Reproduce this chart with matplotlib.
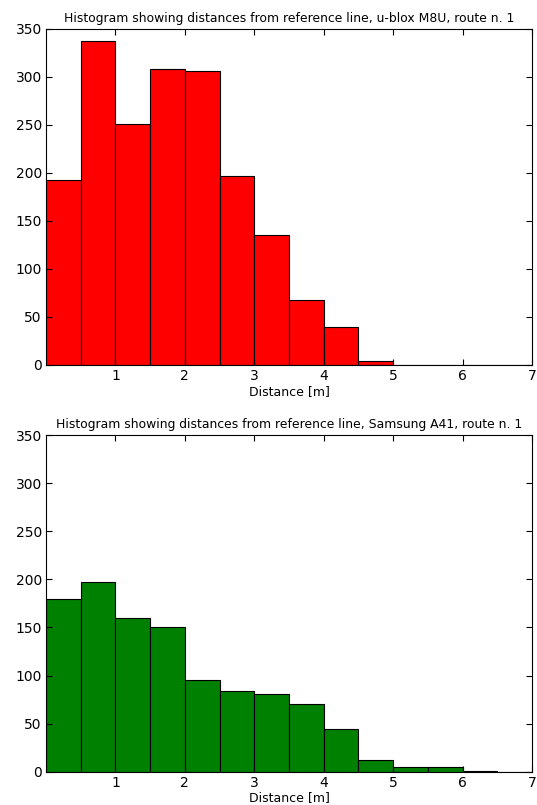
import numpy as np
import matplotlib.pyplot as plt

# bin edges of the histograms (0.5 m wide)
bin_edges = np.arange(0, 7.5, 0.5)

# counts per bin
counts_ublox = [193, 338, 251, 308, 306, 197, 135, 68, 40, 4, 0, 0, 0, 0]
counts_samsung = [180, 197, 160, 151, 95, 84, 81, 70, 44, 12, 5, 5, 1, 0]

titles = ["Histogram showing distances from reference line, u-blox M8U, route n. 1",
          "Histogram showing distances from reference line, Samsung A41, route n. 1"]
colors = ["red", "green"]
xticks = [1, 2, 3, 4, 5, 6, 7]
yticks = [0, 50, 100, 150, 200, 250, 300, 350]

fig = plt.figure(figsize=(5.37, 8.05), dpi=100)
ax1 = fig.add_axes([0.0857, 0.5466, 0.905, 0.4174])
ax2 = fig.add_axes([0.0857, 0.0414, 0.905, 0.4180])

for ax, counts, title, col in zip([ax1, ax2], [counts_ublox, counts_samsung], titles, colors):
    ax.bar(bin_edges[:-1], counts, width=np.diff(bin_edges), align='edge',
           color=col, edgecolor='black', linewidth=0.8)
    ax.set_xlim(0, 7)
    ax.set_ylim(0, 350)
    ax.set_xticks(xticks)
    ax.set_yticks(yticks)
    ax.tick_params(direction='in', top=True, right=True, length=4, labelsize=10, pad=3)
    ax.set_xlabel("Distance [m]", fontsize=9, labelpad=1)
    ax.set_title(title, fontsize=8.9, pad=5)

plt.savefig("out.png", dpi=100)
